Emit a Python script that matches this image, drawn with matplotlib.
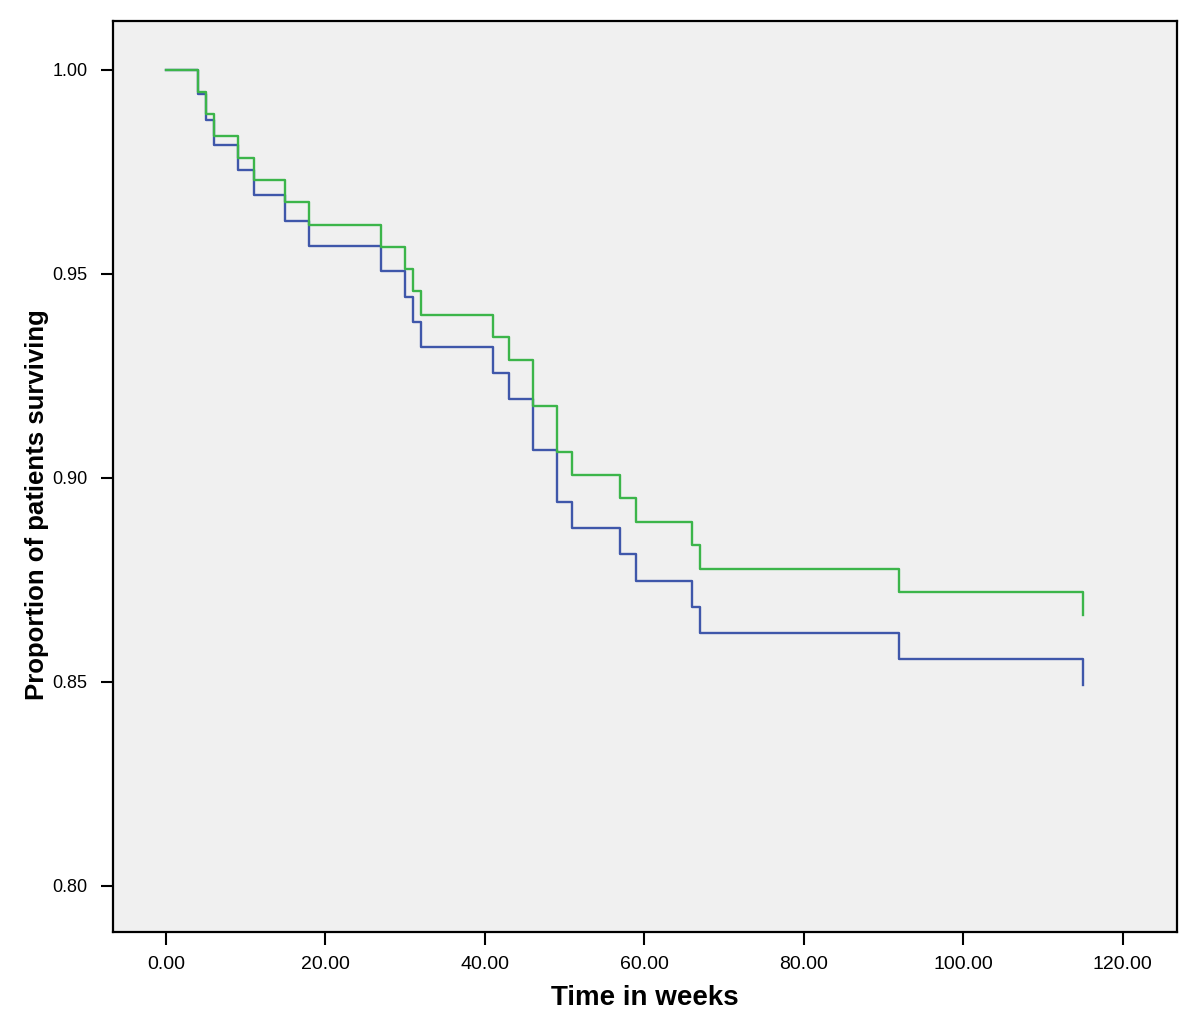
import matplotlib
matplotlib.use("Agg")
import matplotlib.pyplot as plt
from matplotlib import font_manager

# Data (Kaplan-Meier style step curves)
times = [0, 4, 5, 6, 9, 11, 15, 18, 27, 30, 31, 32, 41, 43, 46, 49, 51, 57, 59, 66, 67, 92, 115]
green_surv = [1.000, 0.9945, 0.9892, 0.9838, 0.9784, 0.9730, 0.9676, 0.9621, 0.9567,
              0.9512, 0.9457, 0.9400, 0.9346, 0.9289, 0.9177, 0.9064, 0.9007, 0.8950,
              0.8892, 0.8836, 0.8778, 0.8721, 0.8663]
blue_surv = [1.000, 0.9940, 0.9878, 0.9816, 0.9756, 0.9694, 0.9631, 0.9569, 0.9508,
             0.9444, 0.9382, 0.9320, 0.9257, 0.9194, 0.9069, 0.8940, 0.8877, 0.8813,
             0.8748, 0.8684, 0.8620, 0.8556, 0.8492]

x_ticks = [0, 20, 40, 60, 80, 100, 120]
x_tick_labels = ["0.00", "20.00", "40.00", "60.00", "80.00", "100.00", "120.00"]
y_ticks = [0.80, 0.85, 0.90, 0.95, 1.00]
y_tick_labels = ["0.80", "0.85", "0.90", "0.95", "1.00"]

installed = {f.name for f in font_manager.fontManager.ttflist}
narrow = "Liberation Sans Narrow" if "Liberation Sans Narrow" in installed else "Liberation Sans"

fig = plt.figure(figsize=(12, 10.24), dpi=100)
ax = fig.add_axes([0.0939, 0.0898, 0.8869, 0.8897])
ax.set_facecolor("#f0f0f0")

ax.step(times, blue_surv, where="post", color="#3f57aa", lw=1.7)
ax.step(times, green_surv, where="post", color="#3cb54a", lw=1.7)

ax.set_xlim(-6.66, 126.8)
ax.set_ylim(0.7887, 1.0120)

ax.set_xticks(x_ticks)
ax.set_xticklabels(x_tick_labels, fontfamily=narrow, fontsize=14)
ax.set_yticks(y_ticks)
ax.set_yticklabels(y_tick_labels, fontfamily="Liberation Sans", fontsize=13)

ax.tick_params(axis="x", direction="out", length=9, width=1.5, pad=8, colors="black")
ax.tick_params(axis="y", direction="out", length=9, width=1.5, pad=9, colors="black")
for s in ax.spines.values():
    s.set_linewidth(1.6)
    s.set_color("black")

fig.text(0.537, 0.025, "Time in weeks", ha="center", va="center",
         fontfamily="Liberation Sans", fontweight="bold", fontsize=20)
fig.text(0.031, 0.507, "Proportion of patients surviving", ha="center", va="center",
         rotation=90, fontfamily=narrow, fontweight="bold", fontsize=18.5)

fig.savefig("out.png", dpi=100, facecolor="white")
